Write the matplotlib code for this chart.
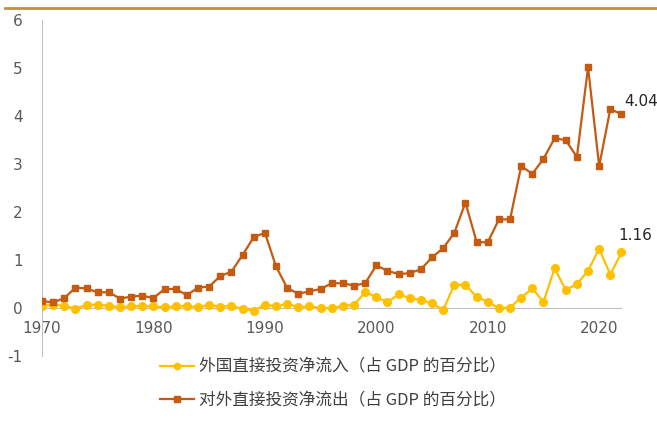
import matplotlib.pyplot as plt
from matplotlib.lines import Line2D

plt.rcParams['font.family'] = ['Noto Sans CJK SC', 'DejaVu Sans']
plt.rcParams['axes.unicode_minus'] = False

years = list(range(1970, 2023))
inflow = [0.05, 0.07, 0.05, -0.01, 0.07, 0.07, 0.05, 0.02, 0.04, 0.05,
          0.04, 0.02, 0.04, 0.05, 0.02, 0.07, 0.03, 0.05, -0.02, -0.05,
          0.07, 0.04, 0.09, 0.02, 0.04, 0.00, 0.00, 0.05, 0.07, 0.33,
          0.24, 0.12, 0.29, 0.21, 0.17, 0.10, -0.04, 0.49, 0.48, 0.24,
          0.13, 0.00, 0.01, 0.22, 0.41, 0.13, 0.83, 0.38, 0.50, 0.78,
          1.24, 0.70, 1.16]
outflow = [0.15, 0.12, 0.21, 0.43, 0.41, 0.33, 0.33, 0.20, 0.24, 0.26,
           0.21, 0.40, 0.40, 0.27, 0.43, 0.45, 0.67, 0.76, 1.11, 1.48,
           1.57, 0.87, 0.42, 0.30, 0.35, 0.40, 0.52, 0.52, 0.47, 0.52,
           0.89, 0.78, 0.71, 0.73, 0.81, 1.06, 1.25, 1.57, 2.20, 1.38,
           1.37, 1.85, 1.85, 2.96, 2.80, 3.11, 3.54, 3.50, 3.15, 5.02,
           2.96, 4.15, 4.04]
label_in = '外国直接投资净流入（占 GDP 的百分比）'
label_out = '对外直接投资净流出（占 GDP 的百分比）'

c_in = '#FFC000'
c_out = '#C55A11'
grey = '#BFBFBF'
tick_col = '#595959'
narrow = 'Liberation Sans Narrow'

fig = plt.figure(figsize=(6.57, 4.21), dpi=100)
ax = fig.add_axes([0.064, 0.154, 0.887, 0.798])

ax.plot(years, inflow, color=c_in, marker='o', markersize=5.5, lw=1.6, zorder=3)
ax.plot(years, outflow, color=c_out, marker='s', markersize=5, lw=1.6, zorder=3)

ax.set_xlim(1970, 2022.3)
ax.set_ylim(-1, 6)
for s in ['top', 'right']:
    ax.spines[s].set_visible(False)
ax.spines['left'].set_color(grey)
ax.spines['left'].set_linewidth(0.8)
ax.spines['bottom'].set_position(('data', 0))
ax.spines['bottom'].set_bounds(1970, 2022)
ax.spines['bottom'].set_color(grey)
ax.spines['bottom'].set_linewidth(0.8)

ax.set_xticks([1970, 1980, 1990, 2000, 2010, 2020])
ax.set_yticks(range(-1, 7))
ax.tick_params(length=0, colors=tick_col, labelsize=11)
ax.tick_params(axis='x', pad=9)
ax.tick_params(axis='y', pad=14)
for t in ax.get_xticklabels() + ax.get_yticklabels():
    t.set_fontfamily(narrow)

ax.annotate(f'{outflow[-1]:.2f}', (years[-1], outflow[-1]), xytext=(2, 6),
            textcoords='offset points', fontsize=11, family=narrow, color='#262626')
ax.annotate(f'{inflow[-1]:.2f}', (years[-1], inflow[-1]), xytext=(-2, 9),
            textcoords='offset points', fontsize=11, family=narrow, color='#262626')

handles = [Line2D([], [], color=c_in, marker='o', markersize=4.5, lw=1.6),
           Line2D([], [], color=c_out, marker='s', markersize=4, lw=1.6)]
leg = fig.legend(handles, [label_in, label_out], loc='center',
                 bbox_to_anchor=(0.507, 0.088), frameon=False, fontsize=12,
                 labelspacing=1.0, handlelength=2.0, handletextpad=0.3)
for t in leg.get_texts():
    t.set_color('#404040')

fig.add_artist(Line2D([0.008, 1.0], [0.981, 0.981], color='#C0913F', lw=2))

fig.savefig('out.png', dpi=100)
